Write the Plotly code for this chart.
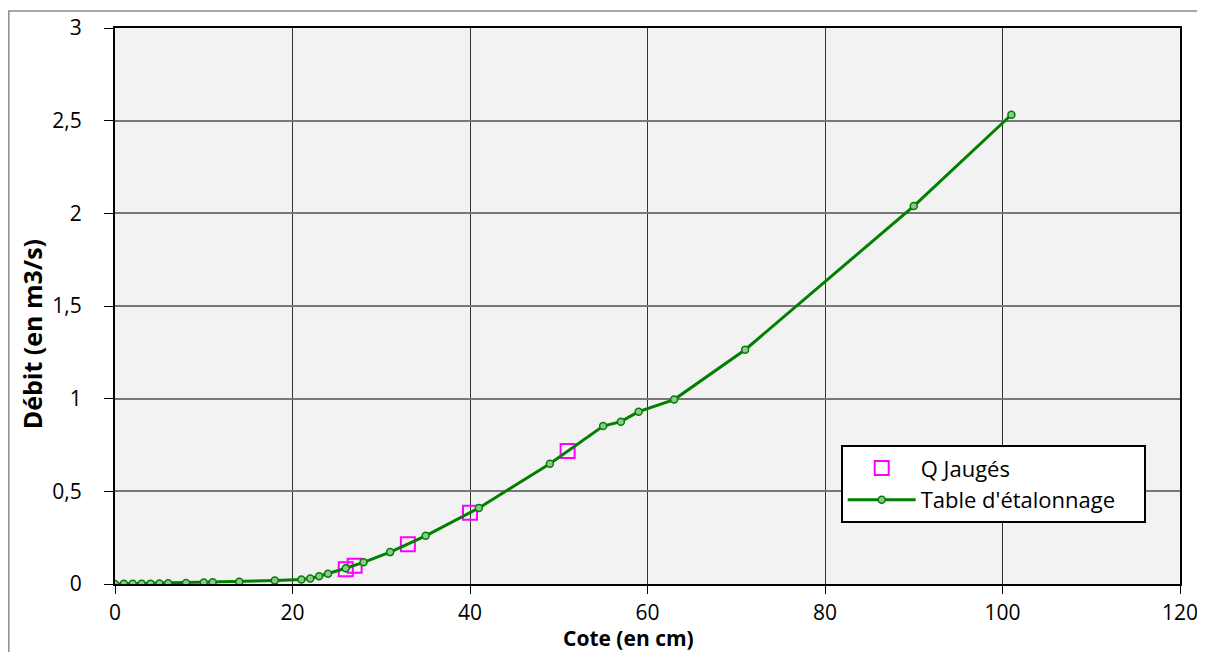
import plotly.graph_objects as go

# Table d'étalonnage
cote_table = [0, 1, 2, 3, 4, 5, 6, 8, 10, 11, 14, 18, 21, 22, 23, 24, 26, 28, 31, 35,
              41, 49, 55, 57, 59, 63, 71, 90, 101]
debit_table = [0, 0.001, 0.001, 0.002, 0.002, 0.003, 0.004, 0.006, 0.008, 0.009, 0.012,
               0.019, 0.024, 0.03, 0.042, 0.055, 0.085, 0.117, 0.172, 0.26,
               0.41, 0.649, 0.852, 0.876, 0.93, 0.995, 1.264, 2.039, 2.532]

# Q Jaugés
cote_jauge = [26, 27, 33, 40, 51]
debit_jauge = [0.08, 0.098, 0.215, 0.384, 0.717]

x_ticks = [0, 20, 40, 60, 80, 100, 120]
y_ticks = [0, 0.5, 1, 1.5, 2, 2.5, 3]
y_ticktext = ["0", "0,5", "1", "1,5", "2", "2,5", "3"]

FONT = "Open Sans"
PAD = "\u00a0" * 4  # right padding inside the legend box

fig = go.Figure()
fig.add_trace(go.Scatter(
    x=cote_jauge, y=debit_jauge, mode="markers", name="Q Jaugés",
    marker=dict(symbol="square-open", size=14, color="#ff00ff", line=dict(width=2, color="#ff00ff")),
))
fig.add_trace(go.Scatter(
    x=cote_table, y=debit_table, mode="lines+markers", name="Table d'étalonnage" + PAD,
    line=dict(color="#008000", width=3),
    marker=dict(symbol="circle", size=7, color="#8fc88f", line=dict(width=1.5, color="#008000")),
))

fig.update_layout(
    width=1189, height=644,
    margin=dict(l=107, r=17, t=20, b=68, autoexpand=False),
    paper_bgcolor="white", plot_bgcolor="#f2f2f2",
    font=dict(family=FONT, size=21, color="black"),
    showlegend=True,
    legend=dict(
        x=0.6814, y=0.2495, xanchor="left", yanchor="top",
        bgcolor="white", bordercolor="black", borderwidth=2,
        font=dict(family=FONT, size=22, color="black"),
        tracegroupgap=0, itemwidth=68,
    ),
    shapes=[dict(type="rect", xref="paper", yref="paper",
                 x0=-0.0997, x1=1.1, y0=-0.3, y1=1.0306,
                 line=dict(color="#8c8c8c", width=1.5), fillcolor="rgba(0,0,0,0)", layer="below")],
    annotations=[
        dict(text="<b>Cote (en cm)</b>", xref="paper", yref="paper", x=0.482, y=-0.0975,
             xanchor="center", yanchor="middle", showarrow=False,
             font=dict(family=FONT, size=21, color="black")),
        dict(text="<b>Débit (en m3/s)</b>", xref="paper", yref="paper", x=-0.0777, y=0.4496,
             xanchor="center", yanchor="middle", showarrow=False, textangle=-90,
             font=dict(family=FONT, size=25, color="black")),
    ],
)

fig.update_xaxes(
    range=[0, 120], tickvals=x_ticks, ticktext=[str(v) for v in x_ticks],
    showgrid=True, gridcolor="#333333", gridwidth=1,
    showline=True, linecolor="black", linewidth=2, mirror=True,
    ticks="outside", ticklen=8, tickcolor="black", tickwidth=1,
    zeroline=False, ticklabelstandoff=1, automargin=False, ticklabeloverflow="allow",
    tickfont=dict(family=FONT, size=21),
)
fig.update_yaxes(
    range=[0, 3], tickvals=y_ticks, ticktext=y_ticktext,
    showgrid=True, gridcolor="#777777", gridwidth=1.5,
    showline=True, linecolor="black", linewidth=2, mirror=True,
    ticks="outside", ticklen=9, tickcolor="black", tickwidth=1,
    zeroline=False, ticklabelstandoff=18, automargin=False, ticklabeloverflow="allow",
    tickfont=dict(family=FONT, size=21),
)

fig.write_html("out.html")
